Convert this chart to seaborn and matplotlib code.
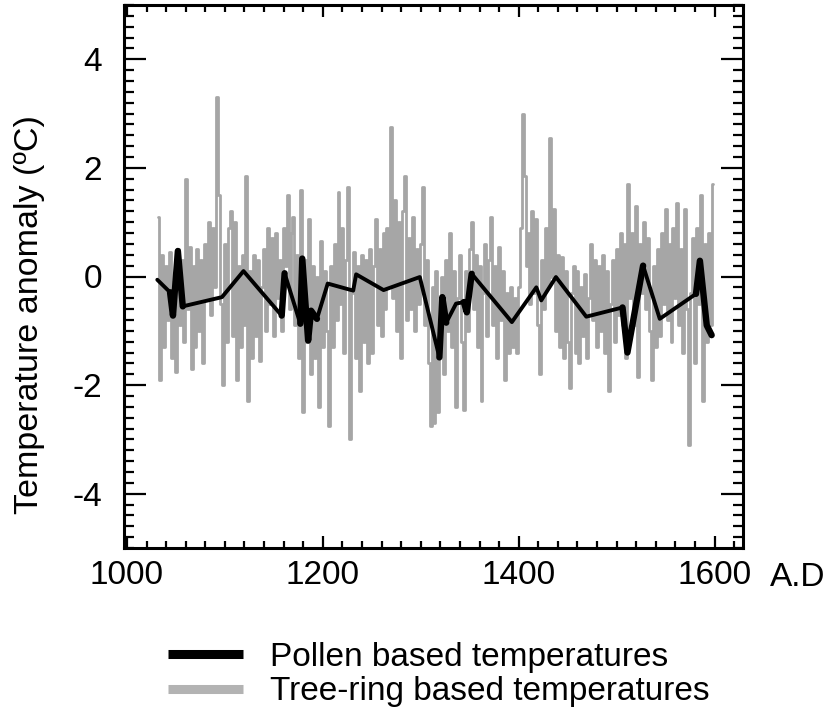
import numpy as np
import pandas as pd
import matplotlib
matplotlib.use("Agg")
import matplotlib.pyplot as plt
from matplotlib.lines import Line2D
from matplotlib.ticker import MultipleLocator
import seaborn as sns

# ---------------- data ----------------
tree_years = list(range(1032, 1599, 2))
tree_temps = [
    1.1, -1.9, 0.4, -1.3, 0.2, -0.8, 0.45, -1.5, -0.1, -1.75,
    0.5, -0.9, 0.3, -1.2, 1.8, -0.6, 0.55, -1.7, 0.2, -1.3,
    0.5, -1.0, 0.3, -1.6, 0.6, -0.4, 1.0, -0.7, 0.9, -0.2,
    3.3, 1.5, -0.5, -2.0, 0.6, -1.2, 0.9, 1.2, -1.1, 1.0,
    -1.9, 0.2, -1.3, 0.4, -0.9, 1.85, -2.3, 0.1, -1.5, 0.4,
    -1.1, 0.3, -1.55, -0.2, 0.5, -1.0, 0.9, -0.5, 0.7, -1.1,
    0.8, -0.4, 0.3, -1.0, 0.9, 0.2, 1.5, -0.6, 0.8, 1.1,
    -0.9, 0.4, -1.5, 1.6, -2.5, 0.3, -1.2, 1.05, -1.8, 0.2,
    -1.5, 0.0, -2.4, 0.65, -1.3, 0.1, -1.0, -2.75, 0.2, -1.3,
    0.6, -0.8, 1.55, -0.5, 0.9, -1.4, 0.3, 1.65, -3.0, -0.3,
    0.45, -1.5, 0.2, -2.1, 0.4, -1.2, 0.3, -1.6, 0.5, -1.4,
    0.2, 1.05, -0.9, 0.5, -1.1, 0.8, -0.6, 0.9, -0.2, 2.75,
    -0.4, 1.4, -1.0, 1.0, -1.5, 1.2, 1.85, -0.8, 0.7, -0.6,
    1.1, -1.0, 0.5, -0.5, 0.6, 1.65, -0.9, 0.3, -1.6, -2.75,
    -0.2, -2.7, 0.1, -2.5, -0.8, 0.0, -1.8, 0.3, -1.0, 0.8,
    -1.3, 0.1, -2.4, -0.4, 0.4, -1.2, -2.45, 0.1, -1.0, 0.5,
    1.0, -0.6, 0.4, -1.3, 0.2, -2.3, -0.3, 0.6, -1.1, 0.3,
    1.1, -0.9, 0.2, -1.5, 0.55, -0.8, 0.1, -1.9, -0.3, -1.4,
    -0.2, -1.3, -0.4, -1.4, -0.2, 0.9, 3.0, 1.85, 0.2, 0.8,
    -0.5, 1.2, -0.3, 1.05, -0.9, -1.8, 0.3, -0.6, 0.9, -0.2,
    2.55, 0.0, 1.25, -1.0, 0.4, -1.3, 0.35, -1.5, 0.1, -1.2,
    -2.05, -0.3, 0.2, -1.4, 0.1, -1.6, -0.2, -1.1, 0.05, -1.5,
    -0.4, 0.6, -0.8, 0.3, -1.3, 0.2, -1.0, 0.4, -1.4, 0.1,
    -2.1, -0.5, 0.3, -1.2, 0.5, -0.7, 0.8, -0.9, 0.6, -1.5,
    1.7, -0.4, 0.8, -0.9, 1.3, -1.85, 0.6, -0.3, 1.0, -0.6,
    0.7, -1.0, -1.9, 0.2, -1.3, 0.5, -1.1, 0.8, -0.5, 1.25,
    -0.8, 0.6, -1.2, 0.9, -0.4, 1.35, -0.9, 0.5, -1.4, 1.25,
    -0.6, -3.1, -0.3, 0.7, -1.6, 0.9, -0.5, 1.5, -2.3, 0.6,
    -1.2, 0.8, -0.9, 1.7,
]

pollen_years = [1031, 1044, 1047, 1052, 1057, 1097, 1119, 1158, 1161, 1177,
                1179, 1185, 1188, 1194, 1205, 1231, 1234, 1262, 1299, 1319,
                1322, 1326, 1336, 1344, 1347, 1352, 1393, 1418, 1423, 1438,
                1469, 1506, 1511, 1527, 1544, 1581, 1585, 1592, 1597]
pollen_temps = [-0.06, -0.29, -0.72, 0.47, -0.55, -0.38, 0.10, -0.72, 0.06, -0.87,
                0.33, -1.18, -0.63, -0.78, -0.13, -0.26, 0.04, -0.25, -0.01, -1.49,
                -0.38, -0.85, -0.50, -0.47, -0.66, 0.05, -0.84, -0.20, -0.44, -0.01,
                -0.74, -0.57, -1.40, 0.20, -0.78, -0.32, 0.29, -0.90, -1.08]
# stretches where the pollen record is densely sampled (drawn heavier)
pollen_dense_spans = [(1044, 1057), (1158, 1161), (1177, 1194), (1319, 1326),
                      (1344, 1352), (1506, 1527), (1581, 1597)]

x_ticks = [1000, 1200, 1400, 1600]
y_ticks = [-4, -2, 0, 2, 4]
legend_labels = ["Pollen based temperatures", "Tree-ring based temperatures"]

tree_df = pd.DataFrame({"year": tree_years, "temp": tree_temps})
pollen_df = pd.DataFrame({"year": pollen_years, "temp": pollen_temps})

# ---------------- style ----------------
sns.set_theme(style="ticks")
plt.rcParams["font.family"] = ["Liberation Sans", "DejaVu Sans"]
plt.rcParams["axes.unicode_minus"] = False
plt.rcParams["text.color"] = "black"
plt.rcParams["axes.labelcolor"] = "black"

W, H = 827, 716
fig = plt.figure(figsize=(W / 100, H / 100), dpi=100)
ax = fig.add_axes([124 / W, 1 - 548 / H, (743 - 124) / W, (548 - 5) / H])

gray = "#a6a6a6"
sns.lineplot(data=tree_df, x="year", y="temp", ax=ax, color=gray, lw=2.0,
             estimator=None, sort=False, drawstyle="steps-mid")
sns.lineplot(data=pollen_df, x="year", y="temp", ax=ax, color="black", lw=2.8,
             estimator=None, sort=False)
for lo, hi in pollen_dense_spans:
    seg = pollen_df[(pollen_df["year"] >= lo) & (pollen_df["year"] <= hi)]
    sns.lineplot(data=seg, x="year", y="temp", ax=ax, color="black", lw=4.6,
                 estimator=None, sort=False, solid_capstyle="round",
                 solid_joinstyle="round")
ax.legend_ = None

ax.set_xlim(997, 1629)
ax.set_ylim(-5, 5)
ax.set_xticks(x_ticks)
ax.set_yticks(y_ticks)
ax.xaxis.set_minor_locator(MultipleLocator(20))
ax.yaxis.set_minor_locator(MultipleLocator(0.2))

for s in ax.spines.values():
    s.set_visible(True)
    s.set_linewidth(2.2)
    s.set_color("black")

ax.tick_params(axis="both", which="both", direction="in", colors="black",
               width=1.6, labelsize=24, top=True, right=True)
ax.tick_params(axis="x", which="major", length=8.5, pad=9)
ax.tick_params(axis="x", which="minor", length=5)
ax.tick_params(axis="y", which="major", length=15.5, pad=16)
ax.tick_params(axis="y", which="minor", length=7.5)

ax.set_xlabel("")
ax.set_ylabel("Temperature anomaly (ºC)", fontsize=24.5, color="black")
ax.yaxis.set_label_coords(-0.128, 0.43)

fig.text(770 / W, 1 - 577 / H, "A.D", fontsize=24, ha="left", va="center",
         color="black")

handles = [Line2D([], [], color="black", lw=6.5, solid_capstyle="butt"),
           Line2D([], [], color="#b3b3b3", lw=6.5, solid_capstyle="butt")]
fig.legend(handles, legend_labels, loc="upper left",
           bbox_to_anchor=(168 / W, 1 - 642 / H), frameon=False,
           fontsize=24, handlelength=2.25, handletextpad=0.8,
           labelspacing=0.1, borderpad=0, borderaxespad=0,
           labelcolor="black")

fig.savefig("out.png", dpi=100)
